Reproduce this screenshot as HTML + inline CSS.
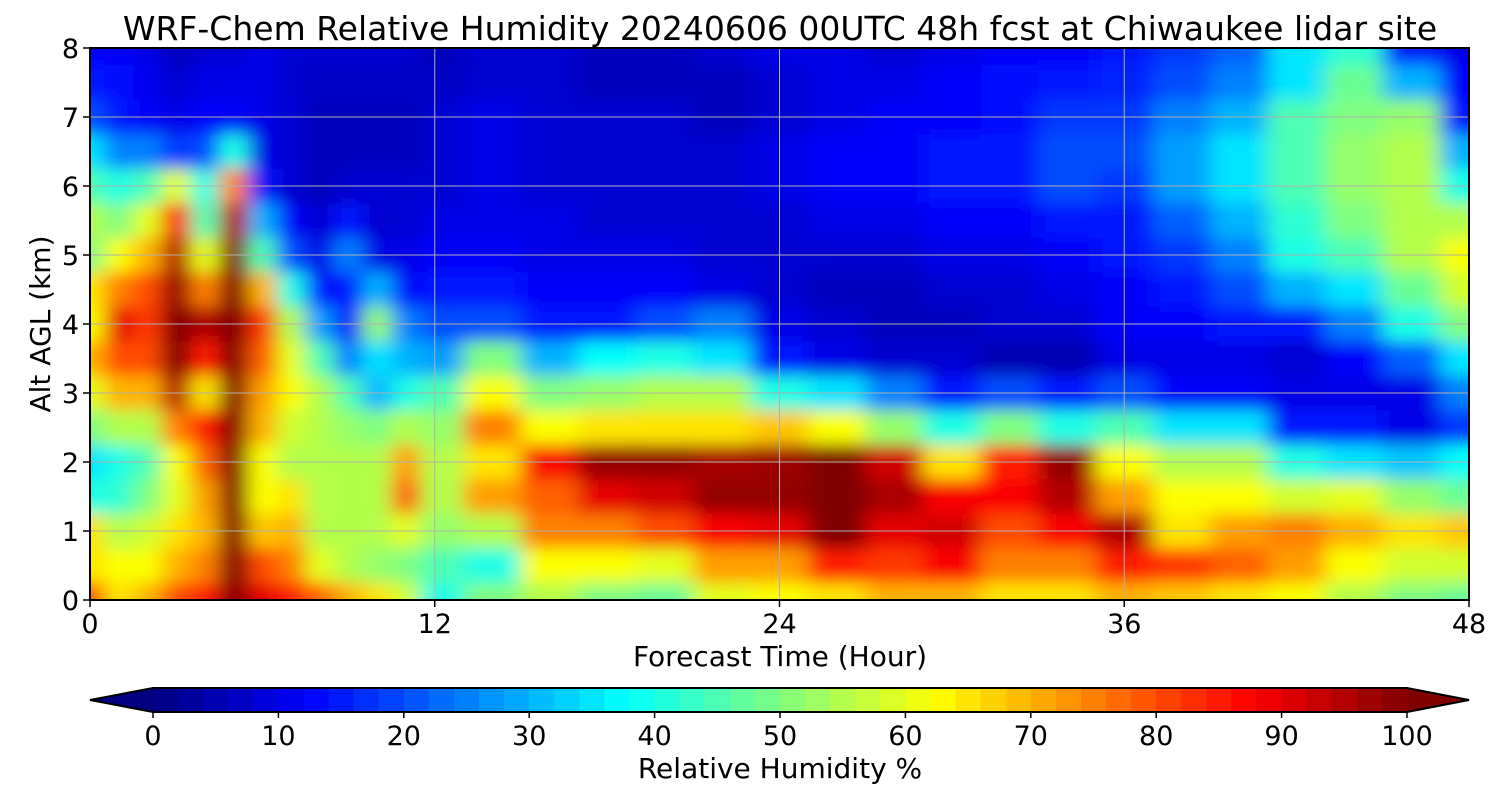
<!DOCTYPE html>
<html><head><meta charset="utf-8"><style>
body{margin:0;background:#fff;}
svg{display:block;font-family:"DejaVu Sans","Liberation Sans",sans-serif;}
</style></head><body>
<svg id="chart" width="1500" height="800" viewBox="0 0 1500 800" xmlns="http://www.w3.org/2000/svg">
<defs>
<clipPath id="pc"><rect x="90" y="48" width="1379" height="552"/></clipPath>
<filter id="bl" x="-10%" y="-10%" width="120%" height="120%"><feGaussianBlur stdDeviation="10 8"/></filter>
</defs>
<text x="780" y="40" font-size="33" text-anchor="middle">WRF-Chem Relative Humidity 20240606 00UTC 48h fcst at Chiwaukee lidar site</text>
<g clip-path="url(#pc)"><g id="cells" filter="url(#bl)"></g></g>
<g id="grid"></g>
<rect x="90" y="48" width="1379" height="552" fill="none" stroke="#000" stroke-width="2"/>
<g id="axes"></g>
<text x="780" y="666" font-size="28" text-anchor="middle">Forecast Time (Hour)</text>
<text transform="translate(50,324) rotate(-90)" font-size="28" text-anchor="middle">Alt AGL (km)</text>
<g id="cbar"></g>
<text x="780" y="778" font-size="28" text-anchor="middle">Relative Humidity %</text>
</svg>
<script>
const hours=[0,1,2,3,4,5,6,7,8,9,10,11,12,14,16,18,20,22,24,26,28,30,32,34,36,38,40,42,44,46,48];
const alts=[8,7.5,7,6.5,6,5.5,5,4.5,4,3.5,3,2.5,2,1.5,1,0.5,0];
const rh=[
[12,12,10,6,8,8,10,8,8,8,8,8,6, 8,8,6,6,8,10,10,8,10,12,12,15,18,22,35,42,15,10],
[15,14,11,8,10,10,10,8,7,7,7,7,7, 8,8,6,6,6,8,10,10,12,14,15,16,20,25,35,48,30,12],
[20,15,12,10,12,12,10,8,6,6,6,6,8, 10,8,8,8,6,8,10,12,12,14,18,18,25,30,45,50,52,15],
[35,25,25,18,20,40,10,8,6,6,6,6,8, 10,8,8,8,8,10,12,12,15,15,20,20,28,35,45,52,55,30],
[45,40,45,60,40,75,15,8,6,8,8,8,8, 10,8,8,8,8,10,12,12,15,15,20,18,28,35,45,52,55,40],
[55,50,60,88,45,95,30,12,8,15,8,8,10, 10,10,8,8,8,8,10,10,12,12,15,15,22,30,42,50,55,55],
[50,62,70,95,60,100,45,20,10,25,10,10,12, 12,10,10,10,8,8,8,8,10,10,12,15,18,25,40,45,55,62],
[65,75,80,98,75,100,70,40,15,15,30,12,15, 15,12,12,12,10,8,6,6,8,8,10,12,15,20,30,35,48,58],
[62,90,82,100,95,100,82,55,28,12,52,25,20, 20,15,15,20,25,10,8,6,6,8,8,12,12,15,15,25,40,50],
[70,80,80,100,85,100,78,60,45,25,35,30,28, 50,30,38,40,35,15,10,8,8,5,5,10,10,10,8,12,22,35],
[60,70,70,95,65,100,72,62,55,45,30,40,45, 62,50,52,55,55,40,35,25,15,20,15,20,12,12,10,10,10,25],
[50,55,55,75,85,100,70,58,55,52,50,55,52, 75,62,65,65,65,68,62,52,40,50,40,45,35,35,15,15,10,18],
[35,40,45,62,78,100,62,55,55,55,55,72,55, 65,88,98,98,96,97,100,92,65,85,98,62,55,55,40,35,32,38],
[40,42,50,60,72,100,62,65,55,55,55,78,55, 72,78,90,92,98,98,100,96,88,88,95,72,62,62,58,60,52,48],
[65,55,58,65,70,100,68,70,55,55,55,60,52, 55,75,75,80,88,90,100,90,92,80,88,95,65,72,75,70,65,68],
[65,62,62,70,75,100,80,75,60,55,52,50,45, 40,62,62,60,72,72,85,82,88,75,75,85,82,78,72,62,58,58],
[80,65,70,80,85,100,90,85,78,70,65,58,40, 50,55,50,48,60,62,65,70,70,65,65,70,68,65,62,55,50,48]];
const xTicks=[0,12,24,36,48];
const yTicks=[0,1,2,3,4,5,6,7,8];
const cTicks=[0,10,20,30,40,50,60,70,80,90,100];
const NS="http://www.w3.org/2000/svg";
const X=h=>90+h/48*1379, Y=a=>600-a/8*552, C=v=>153+v/100*1254;
function jet(v){let t=Math.max(0,Math.min(1,v/100));
 const f=x=>Math.max(0,Math.min(1,x));
 const r=f(Math.min(4*t-1.5,-4*t+4.5)),g=f(Math.min(4*t-0.5,-4*t+3.5)),b=f(Math.min(4*t+0.5,-4*t+2.5));
 return `rgb(${Math.round(r*255)},${Math.round(g*255)},${Math.round(b*255)})`;}
function mk(tag,at,parent){const e=document.createElementNS(NS,tag);for(const k in at)e.setAttribute(k,at[k]);parent.appendChild(e);return e;}
const cells=document.getElementById('cells');
function bounds(arr,i,pad){
 const prev=i>0?(arr[i-1]+arr[i])/2:null, next=i<arr.length-1?(arr[i]+arr[i+1])/2:null;
 let lo=Math.min(prev===null?Infinity:prev,next===null?Infinity:next);
 let hi=Math.max(prev===null?-Infinity:prev,next===null?-Infinity:next);
 if(prev===null||next===null){const nb=prev===null?next:prev;const half=Math.abs(arr[i]-nb);
  if(nb>arr[i]){lo=arr[i]-half-pad;}else{hi=arr[i]+half+pad;}}
 return [lo,hi];}
rh.forEach((row,i)=>row.forEach((v,j)=>{
 const [h0,h1]=bounds(hours,j,2);const [a0,a1]=bounds(alts,i,0.6);
 const x0=X(h0),x1=X(h1),ya=Y(a1),yb=Y(a0);
 const r=mk('rect',{x:x0,y:ya,width:x1-x0+1,height:yb-ya+1,fill:jet(v)},cells);
 
 
}));
const grid=document.getElementById('grid'),axes=document.getElementById('axes');
xTicks.forEach(h=>{
 const l=mk('line',{x1:X(h),x2:X(h),y1:48,y2:600,stroke:'#b0b0b0','stroke-width':1},grid);
 
 mk('line',{x1:X(h),x2:X(h),y1:600,y2:607,stroke:'#000','stroke-width':1.5},axes);
 const t=mk('text',{x:X(h),y:633,'font-size':27,'text-anchor':'middle'},axes);t.textContent=h;
 
});
yTicks.forEach(a=>{
 const l=mk('line',{x1:90,x2:1469,y1:Y(a),y2:Y(a),stroke:'#b0b0b0','stroke-width':1},grid);
 
 mk('line',{x1:83,x2:90,y1:Y(a),y2:Y(a),stroke:'#000','stroke-width':1.5},axes);
 const t=mk('text',{x:79,y:Y(a)+10,'font-size':27,'text-anchor':'end'},axes);t.textContent=a;
 
});
const cb=document.getElementById('cbar');
const N=50;
for(let k=0;k<N;k++){const v=(k+0.5)*100/N;
 const r=mk('rect',{x:C(k*100/N),y:688,width:C(100/N)-C(0)+0.8,height:24,fill:jet(v)},cb);
 }
const tl=mk('polygon',{points:'153,688 90,700 153,712',fill:jet(-5)},cb);

const tr=mk('polygon',{points:'1407,688 1469,700 1407,712',fill:'rgb(128,0,0)'},cb);

mk('polygon',{points:'153,688 1407,688 1469,700 1407,712 153,712 90,700',fill:'none',stroke:'#000','stroke-width':2},cb);
cTicks.forEach(v=>{
 mk('line',{x1:C(v),x2:C(v),y1:712,y2:718,stroke:'#000','stroke-width':1.5},cb);
 const t=mk('text',{x:C(v),y:745,'font-size':27,'text-anchor':'middle'},cb);t.textContent=v;
 
});
</script>
</body></html>
